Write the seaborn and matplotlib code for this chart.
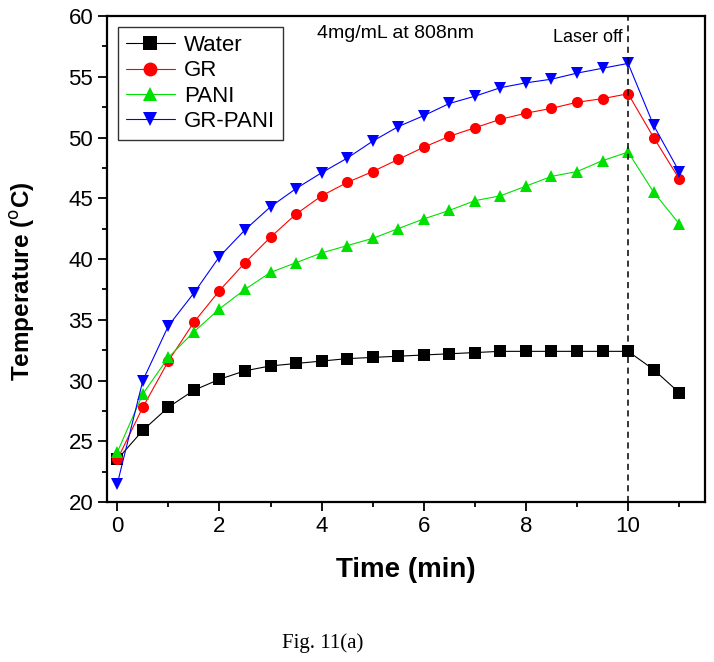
import pandas as pd
import numpy as np
import matplotlib
matplotlib.use('Agg')
import matplotlib.pyplot as plt
from matplotlib.ticker import MultipleLocator
import seaborn as sns

sns.set_style('ticks', {'axes.edgecolor': 'black', 'text.color': 'black',
                        'axes.labelcolor': 'black', 'xtick.color': 'black',
                        'ytick.color': 'black'})
plt.rcParams['font.family'] = ['Liberation Sans', 'DejaVu Sans']

# ── data ──────────────────────────────────────────────────────────────
time = [0, 0.5, 1, 1.5, 2, 2.5, 3, 3.5, 4, 4.5, 5, 5.5, 6, 6.5, 7, 7.5,
        8, 8.5, 9, 9.5, 10, 10.5, 11]
water = [23.5, 25.9, 27.8, 29.2, 30.1, 30.8, 31.2, 31.4, 31.6, 31.8, 31.9, 32.0,
         32.1, 32.2, 32.3, 32.4, 32.4, 32.4, 32.4, 32.4, 32.4, 30.9, 29.0]
gr = [23.5, 27.8, 31.6, 34.8, 37.4, 39.7, 41.8, 43.7, 45.2, 46.3, 47.2, 48.2,
      49.2, 50.1, 50.8, 51.5, 52.0, 52.4, 52.9, 53.2, 53.6, 50.0, 46.6]
pani = [24.1, 28.9, 31.9, 34.0, 35.9, 37.5, 38.9, 39.7, 40.5, 41.1, 41.7, 42.5,
        43.3, 44.0, 44.8, 45.2, 46.0, 46.8, 47.2, 48.1, 48.8, 45.5, 42.9]
gr_pani = [21.5, 30.0, 34.5, 37.2, 40.2, 42.4, 44.3, 45.8, 47.1, 48.3, 49.7, 50.9,
           51.8, 52.8, 53.4, 54.1, 54.5, 54.8, 55.3, 55.7, 56.1, 51.0, 47.2]
samples = ['Water', 'GR', 'PANI', 'GR-PANI']

df = pd.DataFrame({
    'Time': time * 4,
    'Temp': water + gr + pani + gr_pani,
    'Sample': np.repeat(samples, len(time)),
})

palette = {'Water': 'black', 'GR': '#ff0000', 'PANI': '#00e000', 'GR-PANI': '#0000ff'}
markers = {'Water': 's', 'GR': 'o', 'PANI': '^', 'GR-PANI': 'v'}

# ── plot ──────────────────────────────────────────────────────────────
fig = plt.figure(figsize=(7.14, 6.62), dpi=100)
ax = fig.add_axes([0.150, 0.2417, 0.837, 0.7341])

sns.lineplot(data=df, x='Time', y='Temp', hue='Sample', style='Sample',
             palette=palette, markers=markers, dashes=False, lw=0.8,
             markersize=8, markeredgewidth=0, ax=ax)

ax.axvline(10, ls=(0, (4, 3)), c='black', lw=1.1)
ax.text(3.9, 58.6, '4mg/mL at 808nm', fontsize=14, va='center', ha='left')
ax.text(9.9, 58.2, 'Laser off', fontsize=13, va='center', ha='right')

ax.set_xlim(-0.2, 11.5)
ax.set_ylim(20, 60)
ax.xaxis.set_major_locator(MultipleLocator(2))
ax.xaxis.set_minor_locator(MultipleLocator(1))
ax.yaxis.set_major_locator(MultipleLocator(5))
ax.yaxis.set_minor_locator(MultipleLocator(2.5))
ax.tick_params(which='major', direction='out', length=6.5, width=1.3, labelsize=16)
ax.tick_params(which='minor', direction='out', length=3.5, width=1.3)
for s in ax.spines.values():
    s.set_visible(True)
    s.set_linewidth(1.6)

ax.set_xlabel('Time (min)', fontsize=20, fontweight='bold')
ax.xaxis.set_label_coords(0.5, -0.113)
ax.set_ylabel(r'Temperature ($^\mathrm{o}$C)', fontsize=17.5, fontweight='bold')
ax.yaxis.set_label_coords(-0.117, 0.455)

handles, labels = ax.get_legend_handles_labels()
for h in handles:
    h.set_markersize(10)
leg = ax.legend(handles, labels, loc='upper left', fontsize=16, frameon=True,
                fancybox=False, edgecolor='black', handlelength=2.2,
                borderaxespad=0.5, labelspacing=0.2, handletextpad=0.4,
                borderpad=0.35)
leg.get_frame().set_linewidth(1.0)

fig.text(0.395, 0.029, 'Fig. 11(a)', fontsize=15, family='Liberation Serif',
         ha='left', va='center')

plt.savefig('out.png', dpi=100)
plt.close()
